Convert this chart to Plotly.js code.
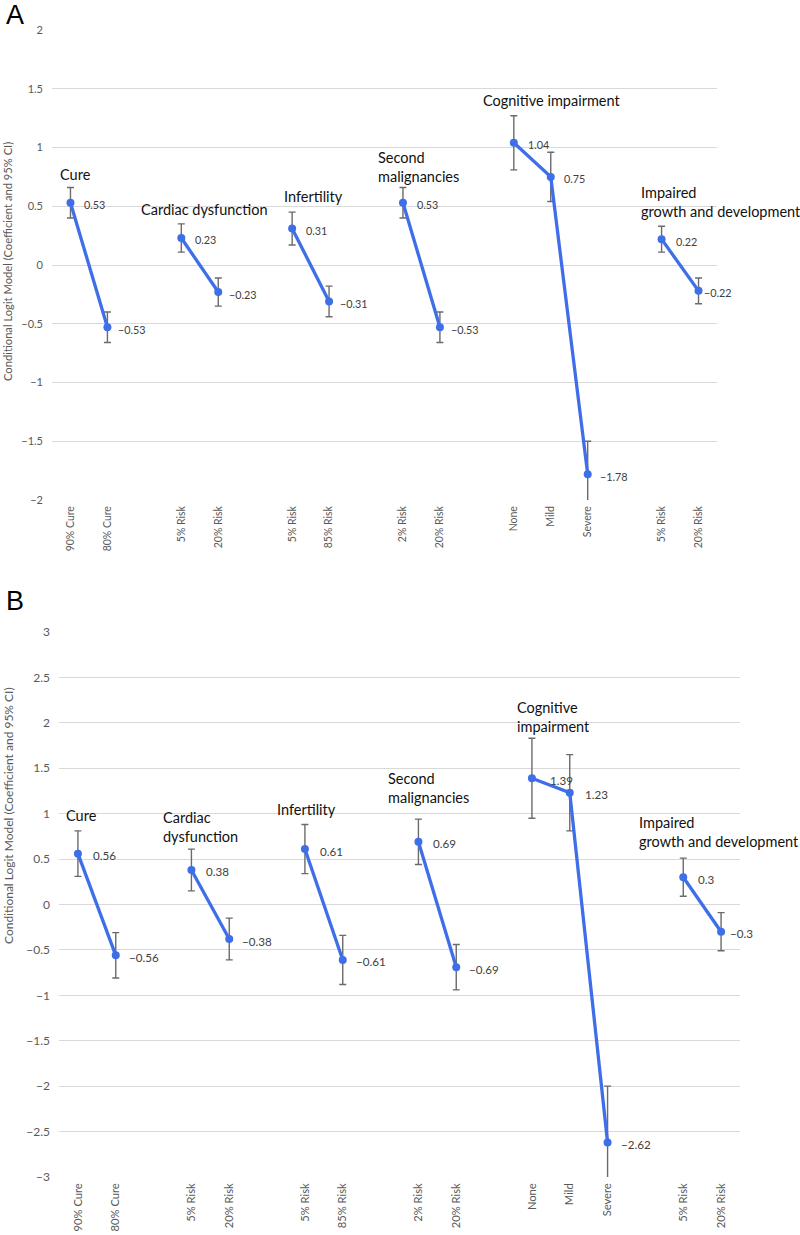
<!DOCTYPE html>
<html>
<head>
<meta charset="utf-8">
<script src="https://cdn.plot.ly/plotly-3.0.1.min.js"></script>
<style>
  html, body { margin: 0; padding: 0; background: #ffffff; }
  #chart { width: 800px; height: 1235px; }
</style>
</head>
<body>
<div id="chart"></div>
<script>
// ---------------- DATA ----------------
const attributes = ["Cure", "Cardiac dysfunction", "Infertility", "Second malignancies", "Cognitive impairment", "Impaired growth and development"];
const levelLabels = [
  ["90% Cure", "80% Cure"],
  ["5% Risk", "20% Risk"],
  ["5% Risk", "85% Risk"],
  ["2% Risk", "20% Risk"],
  ["None", "Mild", "Severe"],
  ["5% Risk", "20% Risk"]
];
const groupTextA = ["Cure", "Cardiac dysfunction", "Infertility", "Second<br>malignancies", "Cognitive impairment", "Impaired<br>growth and development"];
const groupTextB = ["Cure", "Cardiac<br>dysfunction", "Infertility", "Second<br>malignancies", "Cognitive<br>impairment", "Impaired<br>growth and development"];

// Panel A: coefficients and 95% CI half-widths
const coefA = [[0.53, -0.53], [0.23, -0.23], [0.31, -0.31], [0.53, -0.53], [1.04, 0.75, -1.78], [0.22, -0.22]];
const ciA   = [[0.13, 0.13], [0.12, 0.12], [0.14, 0.13], [0.13, 0.13], [0.23, 0.21, 0.28], [0.11, 0.11]];
// Panel B
const coefB = [[0.56, -0.56], [0.38, -0.38], [0.61, -0.61], [0.69, -0.69], [1.39, 1.23, -2.62], [0.3, -0.3]];
const ciB   = [[0.25, 0.25], [0.23, 0.23], [0.27, 0.27], [0.25, 0.25], [0.44, 0.42, 0.62], [0.21, 0.21]];

const yTitle = "Conditional Logit Model (Coefficient and 95% CI)";

// ---------------- LAYOUT HELPERS ----------------
const W = 800, H = 1235;
const BLUE = "#3f6fe8";
const FONT = "Lato, 'Open Sans', sans-serif";

// slot positions: each attribute's levels consecutive, one empty slot between groups
const positions = [];
let slot = 0;
levelLabels.forEach((lv, g) => {
  const p = [];
  lv.forEach(() => { p.push(slot); slot += 1; });
  positions.push(p);
  slot += 1;
});
const tickVals = positions.flat();
const tickText = levelLabels.flat();

function fmt(v) { return String(v).replace("-", "\u2212"); }

// group-title positions (layout only, in axis units)
const grpPosA = [[-0.34, 0.77], [1.86, 0.47], [5.73, 0.58], [8.27, 0.83], [11.11, 1.40], [15.39, 0.54]];
const grpPosB = [[-0.37, 0.98], [2.20, 0.85], [5.21, 1.05], [8.14, 1.28], [11.55, 2.06], [14.78, 0.80]];
// data-label x shifts (px)
const lblShiftA = [[12, 9], [12, 9], [12, 9], [12, 9], [12, 11, 10], [12, 3]];
const lblShiftB = [[13, 11], [13, 11], [13, 11], [13, 11], [16, 13, 11], [13, 7]];

const traces = [];
const annotations = [];

function buildPanel(coef, ci, xa, ya, grpText, grpPos, lblShift, lblSize, grpSize) {
  coef.forEach((vals, g) => {
    traces.push({
      type: "scatter",
      mode: "lines+markers",
      x: positions[g],
      y: vals,
      xaxis: xa, yaxis: ya,
      line: { color: BLUE, width: 3.3 },
      marker: { color: BLUE, size: 8 },
      error_y: { type: "data", array: ci[g], visible: true, color: "#6b6b6b", thickness: 1.4, width: 3.5 },
      hoverinfo: "skip",
      showlegend: false,
      cliponaxis: true
    });
    vals.forEach((v, i) => {
      annotations.push({
        xref: xa, yref: ya, x: positions[g][i], y: v,
        text: fmt(v), showarrow: false, xanchor: "left", yanchor: "middle",
        xshift: lblShift[g][i], yshift: -2,
        font: { family: FONT, size: lblSize, color: "#404040" }
      });
    });
    annotations.push({
      xref: xa, yref: ya, x: grpPos[g][0], y: grpPos[g][1],
      text: grpText[g], showarrow: false, xanchor: "left", yanchor: "middle", align: "left",
      font: { family: FONT, size: grpSize, color: "#111111" }
    });
  });
}

buildPanel(coefA, ciA, "x", "y", groupTextA, grpPosA, lblShiftA, 10.8, 14.5);
buildPanel(coefB, ciB, "x2", "y2", groupTextB, grpPosB, lblShiftB, 11.6, 14.5);

// panel letters and y-axis titles
annotations.push({ xref: "paper", yref: "paper", x: 4 / W, y: 1 - 15 / H, text: "A", showarrow: false, xanchor: "left", yanchor: "middle", font: { family: "Liberation Sans, Arial, sans-serif", size: 27, color: "#000" } });
annotations.push({ xref: "paper", yref: "paper", x: 4 / W, y: 1 - 601 / H, text: "B", showarrow: false, xanchor: "left", yanchor: "middle", font: { family: "Liberation Sans, Arial, sans-serif", size: 27, color: "#000" } });
annotations.push({ xref: "paper", yref: "paper", x: 8 / W, y: 1 - 262 / H, text: yTitle, textangle: -90, showarrow: false, xanchor: "center", yanchor: "middle", font: { family: FONT, size: 11.2, color: "#595959" } });
annotations.push({ xref: "paper", yref: "paper", x: 8 / W, y: 1 - 816 / H, text: yTitle, textangle: -90, showarrow: false, xanchor: "center", yanchor: "middle", font: { family: FONT, size: 12, color: "#595959" } });

function xAxis(domain, anchor, size) {
  return {
    domain: domain, anchor: anchor, range: [-0.5, tickVals[tickVals.length - 1] + 0.5],
    tickmode: "array", tickvals: tickVals, ticktext: tickText, tickangle: -90,
    tickfont: { family: FONT, size: size, color: "#595959" },
    showgrid: false, zeroline: false, showline: false, ticks: "", ticklabelstandoff: 3,
    fixedrange: true
  };
}
function yAxis(domain, anchor, range, size) {
  return {
    domain: domain, anchor: anchor, range: range, dtick: 0.5, tick0: 0,
    tickfont: { family: FONT, size: size, color: "#595959" },
    showgrid: true, gridcolor: "#d9d9d9", gridwidth: 1, zeroline: false, showline: false,
    ticks: "", ticklabelstandoff: 8, fixedrange: true
  };
}

const layout = {
  width: W, height: H,
  margin: { l: 0, r: 0, t: 0, b: 0 },
  paper_bgcolor: "#ffffff", plot_bgcolor: "#ffffff",
  font: { family: FONT },
  showlegend: false,
  xaxis: xAxis([52 / W, 717 / W], "y", 10.5),
  yaxis: yAxis([1 - 500 / H, 1 - 30 / H], "x", [-2, 2], 11),
  xaxis2: xAxis([59 / W, 740 / W], "y2", 11.2),
  yaxis2: yAxis([1 - 1177 / H, 1 - 632 / H], "x2", [-3, 3], 12),
  annotations: annotations
};

Plotly.newPlot("chart", traces, layout, { staticPlot: true, displayModeBar: false });
</script>
</body>
</html>
